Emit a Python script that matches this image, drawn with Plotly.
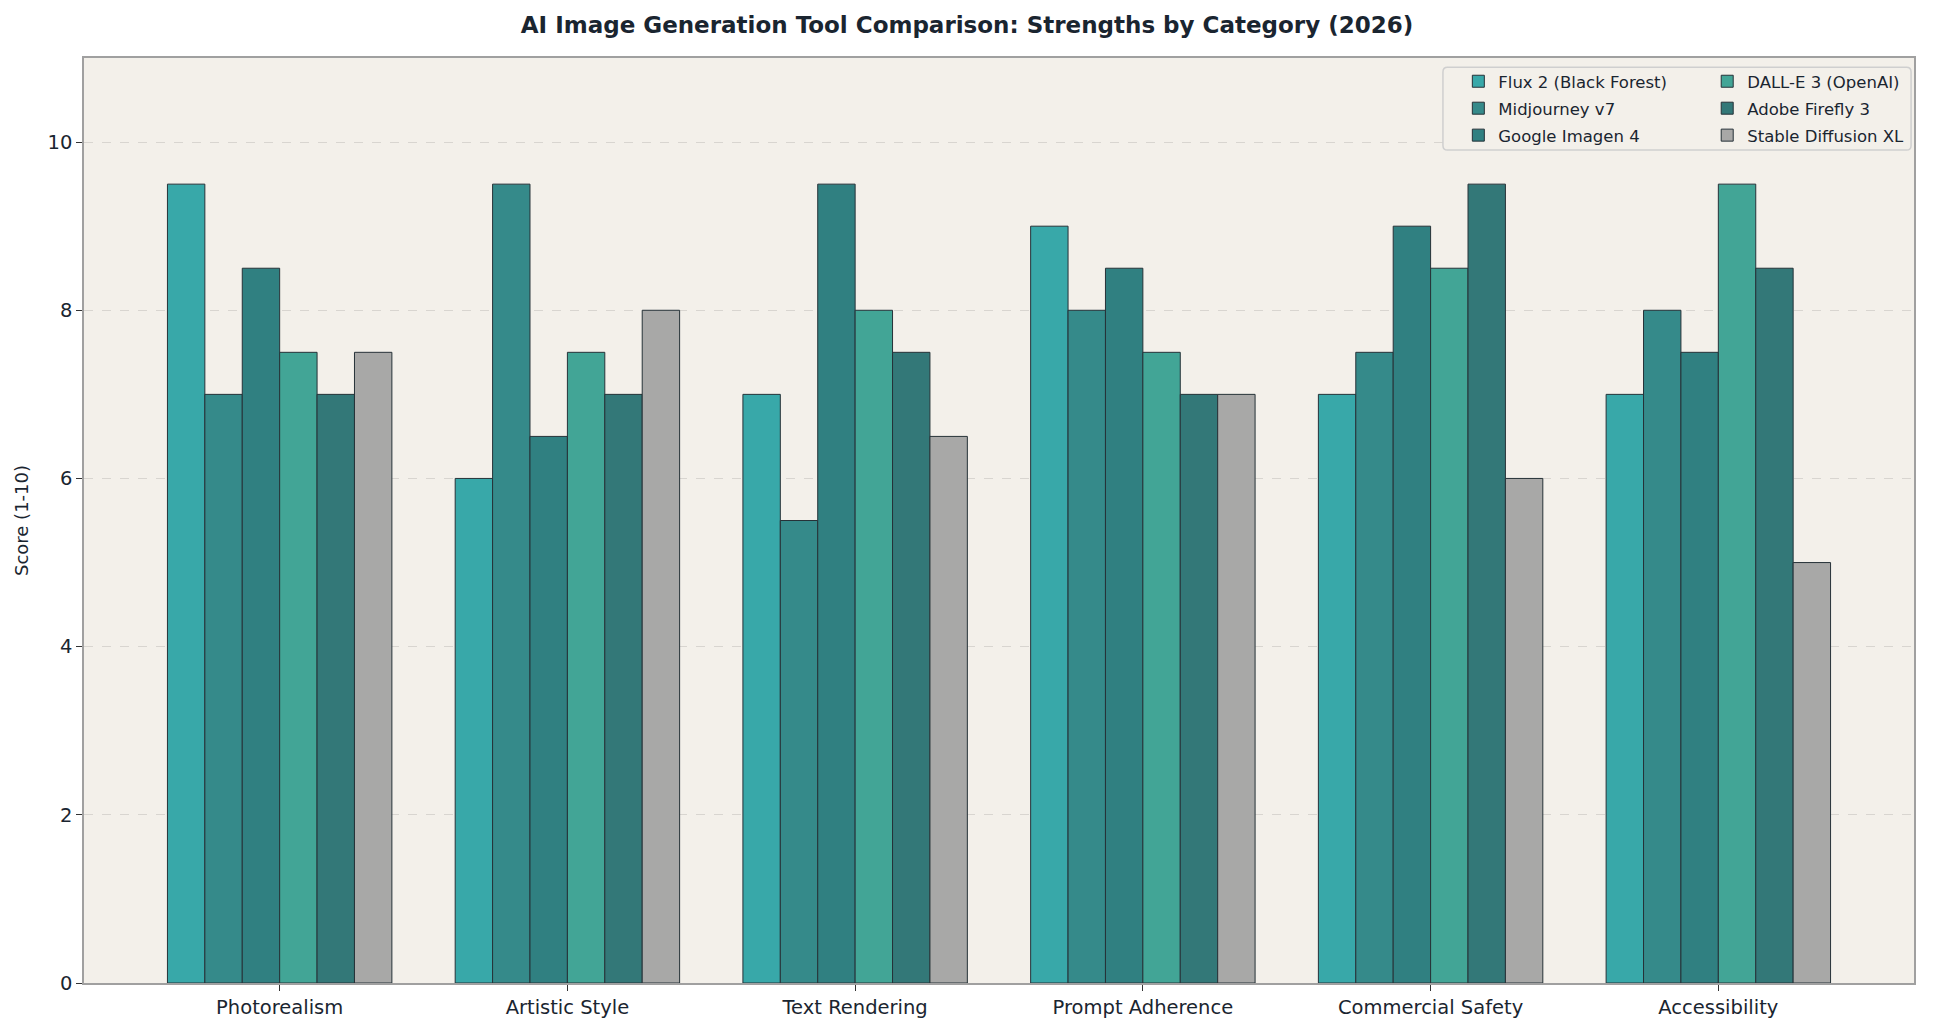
import plotly.graph_objects as go

categories = ["Photorealism", "Artistic Style", "Text Rendering", "Prompt Adherence", "Commercial Safety", "Accessibility"]
series_names = ["Flux 2 (Black Forest)", "Midjourney v7", "Google Imagen 4", "DALL-E 3 (OpenAI)", "Adobe Firefly 3", "Stable Diffusion XL"]
flux = [9.5, 6, 7, 9, 7, 7]
midjourney = [7, 9.5, 5.5, 8, 7.5, 8]
imagen = [8.5, 6.5, 9.5, 8.5, 9, 7.5]
dalle = [7.5, 7.5, 8, 7.5, 8.5, 9.5]
firefly = [7, 7, 7.5, 7, 9.5, 8.5]
sdxl = [7.5, 8, 6.5, 7, 6, 5]
y_ticks = [0, 2, 4, 6, 8, 10]

values = [flux, midjourney, imagen, dalle, firefly, sdxl]
colors = ["#38a8a9", "#358a8a", "#308081", "#42a596", "#337878", "#a8a8a7"]
legend_ids = ["legend", "legend", "legend", "legend2", "legend2", "legend2"]

fig = go.Figure()
for name, vals, col, lg in zip(series_names, values, colors, legend_ids):
    fig.add_trace(go.Bar(
        x=categories, y=vals, name=name,
        marker=dict(color=col, line=dict(color="#263238", width=1)),
        legend=lg, legendgroup=name,
    ))

# legend frame (rounded rectangle, paper coordinates of plot area)
x0, x1, y0, y1 = 0.7426, 0.9984, 0.9005, 0.990
rx, ry = 0.0025, 0.005
path = (f"M {x0+rx},{y0} L {x1-rx},{y0} Q {x1},{y0} {x1},{y0+ry} "
        f"L {x1},{y1-ry} Q {x1},{y1} {x1-rx},{y1} L {x0+rx},{y1} "
        f"Q {x0},{y1} {x0},{y1-ry} L {x0},{y0+ry} Q {x0},{y0} {x0+rx},{y0} Z")
fig.add_shape(type="path", path=path, xref="paper", yref="paper",
              fillcolor="#f3f0ea", line=dict(color="#cfcfcf", width=1.5), layer="above")

legend_common = dict(orientation="v", yanchor="top", xanchor="left",
                     bgcolor="rgba(0,0,0,0)", borderwidth=0,
                     font=dict(size=16.5, color="#1a2530"), itemwidth=30,
                     traceorder="grouped", tracegroupgap=2.5)

fig.update_layout(
    width=1934, height=1032,
    barmode="group", bargap=0.22, bargroupgap=0,
    paper_bgcolor="white", plot_bgcolor="#f3f0ea",
    margin=dict(l=84, r=20, t=58, b=49),
    font=dict(family="DejaVu Sans", size=19, color="#1a2530"),
    title=dict(text="<b>AI Image Generation Tool Comparison: Strengths by Category (2026)</b>",
               x=0.5, xanchor="center", y=0.976, yanchor="middle",
               font=dict(family="DejaVu Sans", size=23, color="#1a2530")),
    legend=dict(x=0.751, y=0.9935, **legend_common),
    legend2=dict(x=0.887, y=0.9935, **legend_common),
    showlegend=True,
)
fig.update_xaxes(
    range=[-0.68, 5.68], showline=True, linecolor="#a0a0a0", linewidth=1.5, mirror=True,
    ticks="outside", ticklen=6, tickcolor="#333333", showgrid=False,
    tickfont=dict(size=19.5),
)
fig.update_yaxes(
    range=[0, 11], tickvals=y_ticks, showline=True, linecolor="#a0a0a0", linewidth=1.5, mirror=True,
    ticks="outside", ticklen=6, tickcolor="#333333",
    showgrid=True, gridcolor="#d8d5d0", griddash="dash", gridwidth=1,
    zeroline=False, tickfont=dict(size=19.5),
    title=dict(text="Score (1-10)", font=dict(size=18), standoff=14),
)

fig.write_html("out.html")
